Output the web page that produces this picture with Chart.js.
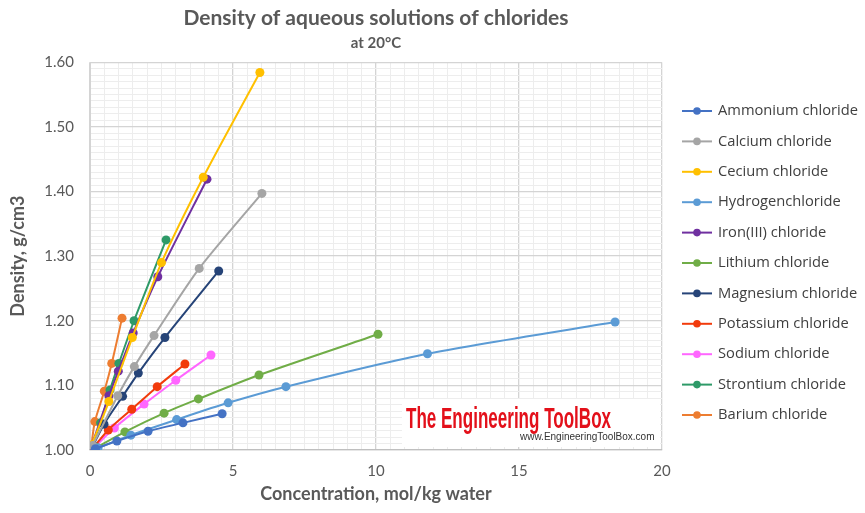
<!DOCTYPE html>
<html>
<head>
<meta charset="utf-8">
<script src="https://cdn.jsdelivr.net/npm/chart.js@4.4.1/dist/chart.umd.min.js"></script>
<style>
  html, body { margin: 0; padding: 0; background: #fff; }
  #wrap { width: 865px; height: 513px; }
</style>
</head>
<body>
<div id="wrap"><canvas id="chart" width="865" height="513"></canvas></div>
<script>
// series names (legend order)
const seriesNames = ['Ammonium chloride', 'Calcium chloride', 'Cecium chloride', 'Hydrogenchloride',
  'Iron(III) chloride', 'Lithium chloride', 'Magnesium chloride', 'Potassium chloride',
  'Sodium chloride', 'Strontium chloride', 'Barium chloride'];
const seriesColors = ['#4472C4', '#A5A5A5', '#FFC000', '#5B9BD5', '#7030A0', '#70AD47',
  '#264478', '#F23B0C', '#FF66FF', '#2E9A68', '#ED7D31'];

// concentration (mol/kg water) and density (g/cm3)
const ammoniumConc = [0.19, 0.94, 2.03, 3.25, 4.62];
const ammoniumDens = [1.002, 1.014, 1.029, 1.042, 1.056];
const calciumConc = [0.09, 0.97, 1.55, 2.24, 3.82, 6.01];
const calciumDens = [1.007, 1.084, 1.129, 1.177, 1.281, 1.397];
const ceciumConc = [0.06, 0.66, 1.48, 2.50, 3.96, 5.94];
const ceciumDens = [1.008, 1.075, 1.174, 1.290, 1.422, 1.584];
const hydrogenConc = [0.28, 1.43, 3.03, 4.83, 6.85, 11.80, 18.36];
const hydrogenDens = [1.003, 1.023, 1.047, 1.073, 1.098, 1.149, 1.198];
const ironConc = [0.06, 0.66, 0.99, 1.51, 2.37, 4.09];
const ironDens = [1.007, 1.084, 1.122, 1.181, 1.268, 1.419];
const lithiumConc = [0.24, 1.22, 2.59, 3.79, 5.91, 10.07];
const lithiumDens = [1.004, 1.028, 1.057, 1.079, 1.116, 1.179];
const magnesiumConc = [0.11, 0.49, 1.14, 1.69, 2.62, 4.50];
const magnesiumDens = [1.007, 1.040, 1.083, 1.119, 1.174, 1.277];
const potassiumConc = [0.14, 0.64, 1.46, 2.35, 3.32];
const potassiumDens = [1.005, 1.031, 1.063, 1.098, 1.133];
const sodiumConc = [0.17, 0.85, 1.89, 3.00, 4.23];
const sodiumDens = [1.005, 1.034, 1.071, 1.108, 1.147];
const strontiumConc = [0.06, 0.37, 0.70, 1.01, 1.54, 2.66];
const strontiumDens = [1.007, 1.042, 1.093, 1.134, 1.200, 1.325];
const bariumConc = [0.05, 0.17, 0.50, 0.76, 1.12];
const bariumDens = [1.007, 1.044, 1.091, 1.134, 1.204];

// axis ticks
const xTickLabels = [0, 5, 10, 15, 20];
const yTickLabels = [1.0, 1.1, 1.2, 1.3, 1.4, 1.5, 1.6];

const allConc = [ammoniumConc, calciumConc, ceciumConc, hydrogenConc, ironConc, lithiumConc,
  magnesiumConc, potassiumConc, sodiumConc, strontiumConc, bariumConc];
const allDens = [ammoniumDens, calciumDens, ceciumDens, hydrogenDens, ironDens, lithiumDens,
  magnesiumDens, potassiumDens, sodiumDens, strontiumDens, bariumDens];

const datasets = seriesNames.map(function(name, i) {
  return {
    label: name,
    data: allConc[i].map(function(c, j) { return { x: c, y: allDens[i][j] }; }),
    borderColor: seriesColors[i],
    backgroundColor: seriesColors[i],
    borderWidth: 2,
    pointRadius: 4.5,
    pointHoverRadius: 4.5,
    pointBorderWidth: 0,
    showLine: true,
    tension: 0.25
  };
});

function isMajor(v, step) {
  return Math.abs(v / step - Math.round(v / step)) < 1e-6;
}

// legend drawn on the right, Excel style: line with a dot
const sideLegend = {
  id: 'sideLegend',
  afterDraw(chart) {
    const ctx = chart.ctx;
    const x0 = chart.chartArea.right + 20;
    ctx.save();
    ctx.font = '14.7px "Open Sans"';
    ctx.textBaseline = 'middle';
    chart.data.datasets.forEach(function(ds, i) {
      const y = 111 + i * 30.4;
      ctx.strokeStyle = ds.borderColor;
      ctx.lineWidth = 2;
      ctx.beginPath();
      ctx.moveTo(x0, y);
      ctx.lineTo(x0 + 30, y);
      ctx.stroke();
      ctx.fillStyle = ds.borderColor;
      ctx.beginPath();
      ctx.arc(x0 + 15, y, 3.8, 0, Math.PI * 2);
      ctx.fill();
      ctx.fillStyle = '#404040';
      ctx.fillText(ds.label, x0 + 36, y);
    });
    ctx.restore();
  }
};

// watermark
const watermark = {
  id: 'watermark',
  afterDatasetsDraw(chart) {
    const ctx = chart.ctx;
    ctx.save();
    ctx.fillStyle = '#ffffff';
    ctx.fillRect(402, 399, 258, 48);
    ctx.fillStyle = '#E3101A';
    ctx.font = 'bold 30px "Liberation Sans"';
    ctx.textBaseline = 'alphabetic';
    const label = 'The Engineering ToolBox';
    const w = ctx.measureText(label).width;
    ctx.translate(406, 428);
    ctx.scale(205 / w, 1);
    ctx.fillText(label, 0, 0);
    ctx.setTransform(1, 0, 0, 1, 0, 0);
    ctx.fillStyle = '#333333';
    ctx.font = '10px "Liberation Sans"';
    ctx.fillText('www.EngineeringToolBox.com', 520, 440);
    ctx.restore();
  }
};

const ctx = document.getElementById('chart').getContext('2d');
new Chart(ctx, {
  type: 'scatter',
  data: { datasets: datasets },
  options: {
    responsive: false,
    animation: false,
    layout: { padding: { left: 0, right: 203, top: 0, bottom: 0 } },
    plugins: {
      legend: { display: false },
      tooltip: { enabled: false },
      title: {
        display: true,
        fullSize: false,
        text: 'Density of aqueous solutions of chlorides',
        color: '#595959',
        font: { family: 'Lato', size: 21, weight: 'bold' },
        padding: { top: 6, bottom: 0 }
      },
      subtitle: {
        display: true,
        fullSize: false,
        text: 'at 20°C',
        color: '#595959',
        font: { family: 'Lato', size: 15, weight: 'bold' },
        padding: { top: 3, bottom: 10 }
      }
    },
    scales: {
      x: {
        type: 'linear',
        min: 0,
        max: 20,
        afterBuildTicks(scale) {
          const t = [];
          for (let v = 0; v <= 20.0001; v += 0.5) t.push({ value: Math.round(v * 10) / 10 });
          scale.ticks = t;
        },
        afterFit(scale) { scale.height = 63; },
        ticks: {
          autoSkip: false,
          maxRotation: 0,
          padding: 12,
          color: '#595959',
          font: { family: 'Lato', size: 15 },
          callback: function(v) { return xTickLabels.indexOf(v) >= 0 ? String(v) : ''; }
        },
        grid: {
          drawTicks: false,
          color: function(c) { return isMajor(c.tick.value, 5) ? '#D4D4D4' : '#EDEDED'; },
          lineWidth: function(c) { return isMajor(c.tick.value, 5) ? 1.3 : 1; }
        },
        border: { color: '#BFBFBF', width: 1.3 },
        title: {
          display: true,
          text: 'Concentration, mol/kg water',
          color: '#595959',
          font: { family: 'Lato', size: 18, weight: 'bold' },
          padding: { top: 0, bottom: 8 }
        }
      },
      y: {
        type: 'linear',
        min: 1.0,
        max: 1.6,
        afterBuildTicks(scale) {
          const t = [];
          for (let k = 0; k <= 60; k++) t.push({ value: Math.round((1 + k * 0.01) * 100) / 100 });
          scale.ticks = t;
        },
        afterFit(scale) { scale.width = 90; },
        ticks: {
          autoSkip: false,
          padding: 16,
          color: '#595959',
          font: { family: 'Lato', size: 15 },
          callback: function(v) {
            const hit = yTickLabels.some(function(l) { return Math.abs(l - v) < 1e-6; });
            return hit ? v.toFixed(2) : '';
          }
        },
        grid: {
          drawTicks: false,
          color: function(c) { return isMajor(c.tick.value, 0.1) ? '#D4D4D4' : '#EDEDED'; },
          lineWidth: function(c) { return isMajor(c.tick.value, 0.1) ? 1.3 : 1; }
        },
        border: { color: '#D4D4D4', width: 1 },
        title: {
          display: true,
          text: 'Density, g/cm3',
          color: '#595959',
          font: { family: 'Lato', size: 18, weight: 'bold' },
          padding: { top: 7, bottom: 0 }
        }
      }
    }
  },
  plugins: [sideLegend, watermark]
});
</script>
</body>
</html>
